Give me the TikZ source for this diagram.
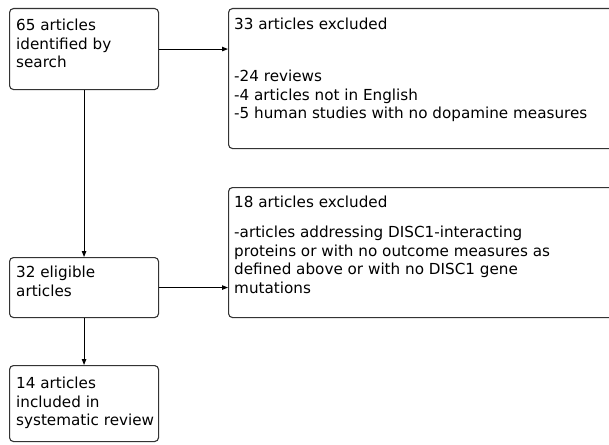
\documentclass[tikz,border=0pt]{standalone}
\usepackage{fontspec}
\setmainfont{DejaVu Sans}
\usetikzlibrary{arrows.meta}
\begin{document}
\begin{tikzpicture}[x=1pt,y=-1pt,
  box/.style={draw=black!80, line width=1.1pt, rounded corners=4pt, inner sep=0pt, anchor=north west},
  txt/.style={anchor=north west, inner sep=0pt, align=left, font=\fontsize{15.2}{18.8}\selectfont, text=black},
  conn/.style={draw=black, line width=1pt, -{Triangle[length=6pt,width=4.5pt]}}]
\clip (0,0) rectangle (609,444);
% boxes
\node[box, minimum width=149pt, minimum height=81pt]  (b1)  at (9,8) {};
\node[box, minimum width=390pt, minimum height=140pt] (b33) at (228,8) {};
\node[box, minimum width=390pt, minimum height=130pt] (b18) at (228,187) {};
\node[box, minimum width=149pt, minimum height=60pt]  (b32) at (9,257) {};
\node[box, minimum width=149pt, minimum height=76pt]  (b14) at (9,365) {};
% texts
\node[txt] (t1)  at (16,18)   {\rule{0pt}{12pt}65 articles\\identified by\\search};
\node[txt] (t33) at (234,17)  {\rule{0pt}{12pt}33 articles excluded\\[33.2pt]-24 reviews\\-4 articles not in English\\-5 human studies with no dopamine measures};
\node[txt] (t18) at (234,195) {\rule{0pt}{12pt}18 articles excluded\\[11.2pt]-articles addressing DISC1-interacting\\proteins or with no outcome measures as\\defined above or with no DISC1 gene\\mutations};
\node[txt] (t32) at (16,265)  {\rule{0pt}{12pt}32 eligible\\articles};
\node[txt] (t14) at (16,376)  {\rule{0pt}{12pt}14 articles\\included in\\systematic review};
% connectors
\draw[conn] (b1.east) -- (b1.east -| b33.west);
\draw[conn] (b1.south) -- (b32.north);
\draw[conn] (b32.east) -- (b32.east -| b18.west);
\draw[conn] (b32.south) -- (b14.north);
\end{tikzpicture}
\end{document}
